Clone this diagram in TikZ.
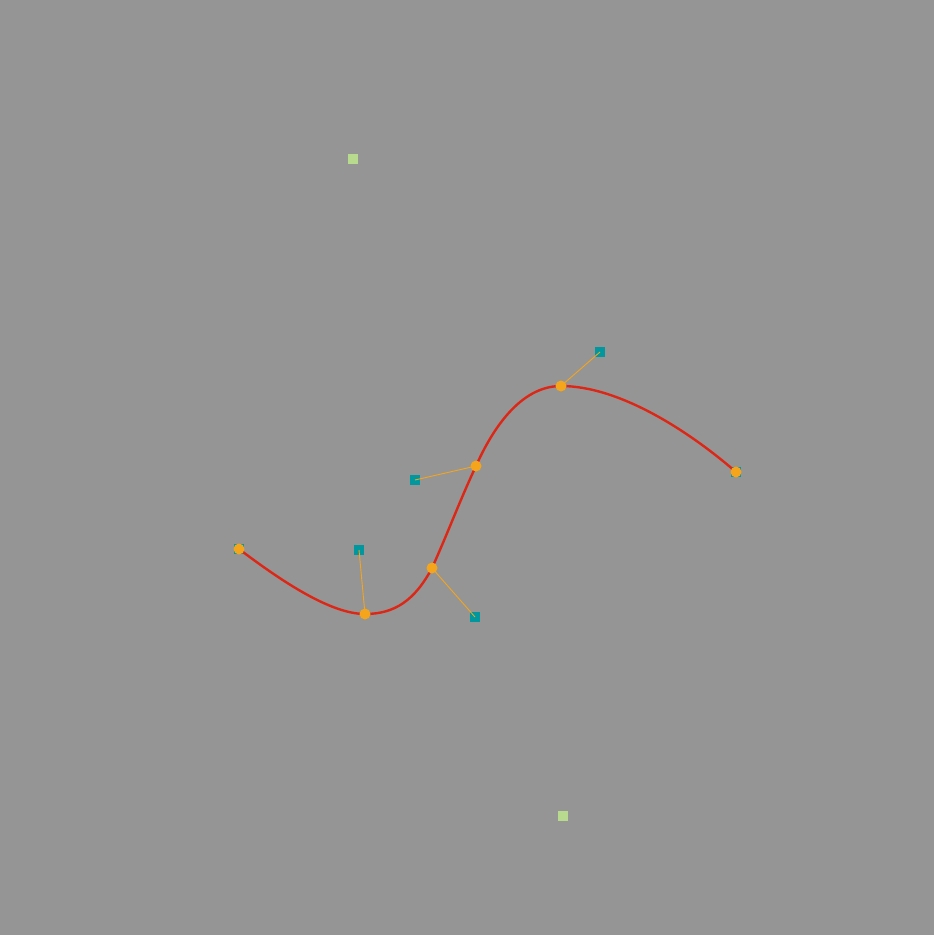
\documentclass[tikz,border=0pt]{standalone}
\begin{document}
\begin{tikzpicture}[x=1pt,y=-1pt,
  bg/.style={fill=bgray},
  handle/.style={draw=dotor, line width=0.9pt},
  ctrl/.style={fill=teal1, minimum size=10.5pt, inner sep=0pt, outer sep=0pt, draw=none, rectangle},
  knot/.style={fill=dotor, circle, minimum size=11pt, inner sep=0pt, draw=none},
  extra/.style={fill=lgreen, minimum size=10.5pt, inner sep=0pt, draw=none, rectangle},
  curveline/.style={draw=redc, line width=2.4pt}]
\definecolor{bgray}{HTML}{959595}
\definecolor{dotor}{HTML}{F5A51C}
\definecolor{teal1}{HTML}{00979E}
\definecolor{lgreen}{HTML}{B7DA8E}
\definecolor{redc}{HTML}{DD2716}
\fill[bgray] (0,0) rectangle (934,935);
\useasboundingbox (0,0) rectangle (934,935);
% knots
\coordinate (k1) at (239,549);
\coordinate (k2) at (365,614);
\coordinate (k3) at (432,568);
\coordinate (k4) at (476,466);
\coordinate (k5) at (561,386);
\coordinate (k6) at (736,472);
% control squares
\node[ctrl] (c1) at (k1) {};
\node[ctrl] (c6) at (k6) {};
\node[ctrl] (c2) at (359,550) {};
\node[ctrl] (c3) at (475,617) {};
\node[ctrl] (c4) at (415,480) {};
\node[ctrl] (c5) at (600,352) {};
% extra green squares
\node[extra] (g1) at (353,159) {};
\node[extra] (g2) at (563,816) {};
% handles
\draw[handle] (k2) -- (c2.center);
\draw[handle] (k3) -- (c3.center);
\draw[handle] (k4) -- (c4.center);
\draw[handle] (k5) -- (c5.center);
% curve
\draw[curveline] (k1) .. controls (280,580) and (330,614) .. (k2)
  .. controls (395,614) and (415,600) .. (k3)
  .. controls (447,535) and (460,500) .. (k4)
  .. controls (492,430) and (520,386) .. (k5)
  .. controls (620,386) and (690,432) .. (k6);
% knot dots
\foreach \k in {k1,k2,k3,k4,k5,k6} \node[knot] (d\k) at (\k) {};
\end{tikzpicture}
\end{document}
